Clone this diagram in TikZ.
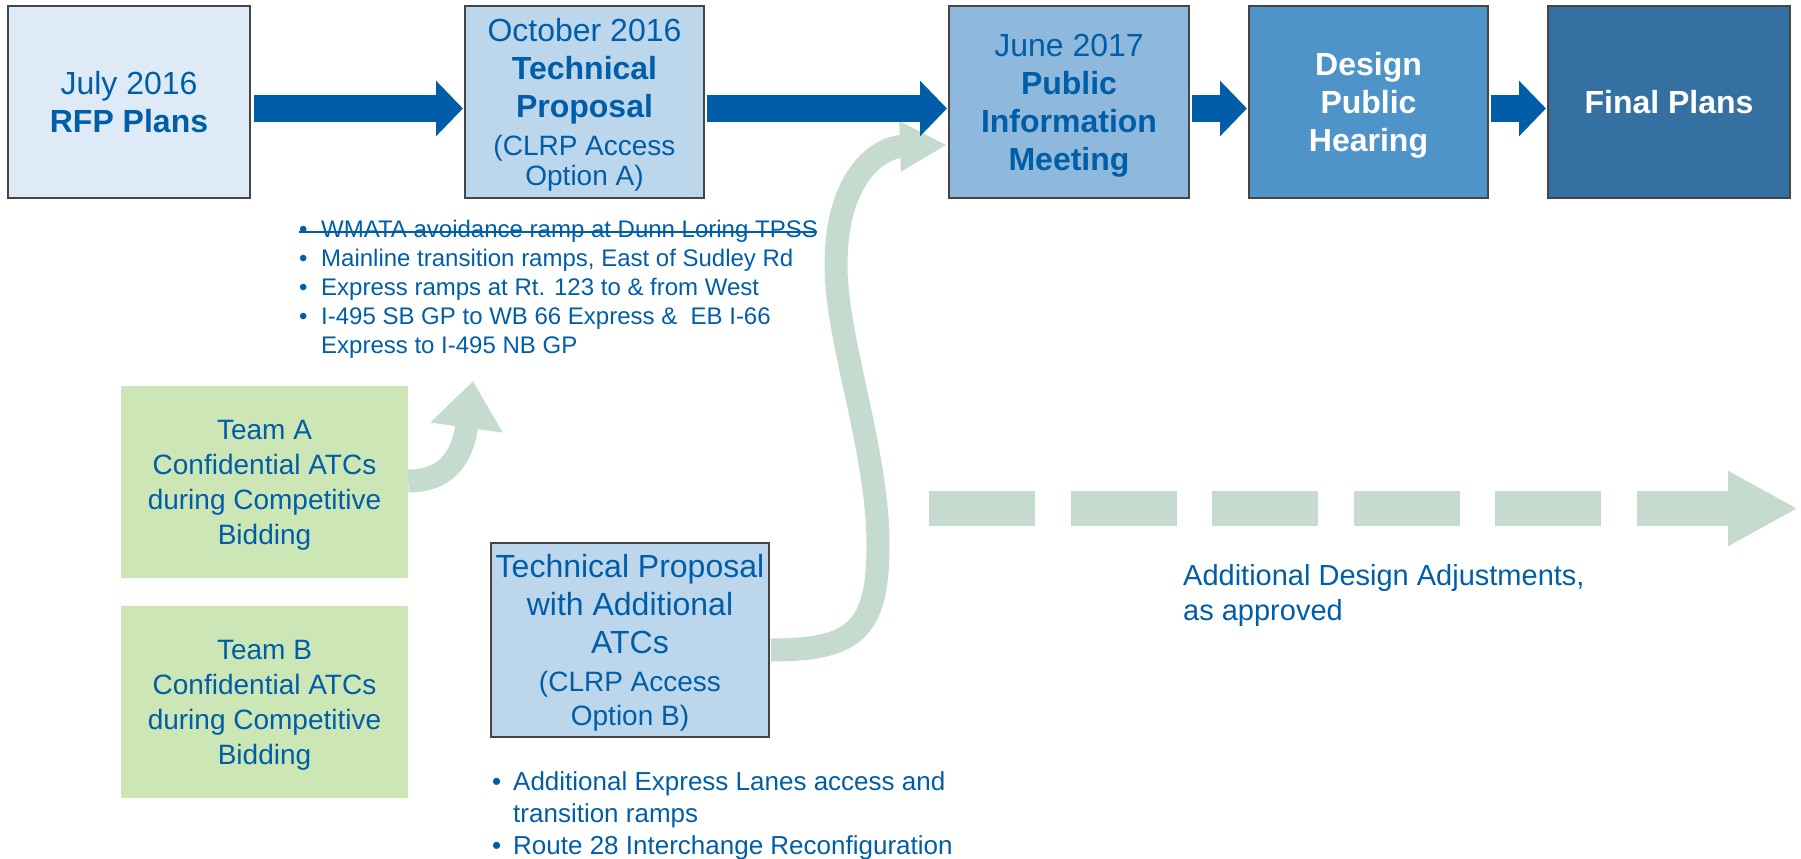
\documentclass[tikz,border=0pt]{standalone}
\usepackage{fontspec}
\setmainfont{Liberation Sans}
\usetikzlibrary{arrows.meta}
\definecolor{txt}{HTML}{005EA8}
\definecolor{arr}{HTML}{005DA8}
\definecolor{cA}{HTML}{DEEBF7}
\definecolor{cB}{HTML}{BCD6EC}
\definecolor{cC}{HTML}{8FB9DC}
\definecolor{cD}{HTML}{4F94C9}
\definecolor{cE}{HTML}{3470A1}
\definecolor{grn}{HTML}{CDE6B5}
\definecolor{sage}{HTML}{C5DBD0}
\definecolor{bord}{HTML}{454545}
\newcommand{\fsBig}{\fontsize{32}{38}\selectfont}
\newcommand{\fsSm}{\fontsize{28}{30}\selectfont}
\begin{document}
\begin{tikzpicture}[x=1pt,y=-1pt,
  stage/.style={draw=bord, line width=2pt, minimum height=192pt, inner sep=0pt,
    align=center, text=txt, font=\fsBig, text depth=0pt},
  team/.style={fill=grn, minimum width=287pt, minimum height=192pt, inner sep=0pt,
    align=center, text=txt, font=\fontsize{28}{35}\selectfont, text depth=0pt},
  blk/.style={draw=arr, line width=27pt, -{Triangle[length=27pt,width=54pt]}},
  sagearr/.style={draw=sage, line width=23pt},
  lst/.style={anchor=base west, inner sep=0pt, text=txt}
]
\useasboundingbox (0,0) rectangle (1801,859);

% top row
\node[stage, fill=cA, minimum width=242pt] (b1) at (129,102) {July 2016\\\textbf{RFP Plans}};
\node[stage, fill=cB, minimum width=239pt] (b2) at (584.5,102)
  {October 2016\\\textbf{Technical}\\\textbf{Proposal}\\{\fsSm (CLRP Access}\\[-8pt]{\fsSm Option A)}};
\node[stage, fill=cC, minimum width=240pt] (b3) at (1069,102)
  {June 2017\\\textbf{Public}\\\textbf{Information}\\\textbf{Meeting}};
\node[stage, fill=cD, minimum width=239pt, text=white, font=\fsBig\bfseries] (b4) at (1368.5,102)
  {Design\\Public\\Hearing};
\node[stage, fill=cE, minimum width=242pt, text=white, font=\fsBig\bfseries] (b5) at (1669,102)
  {Final Plans};

% team boxes
\node[team] (tA) at (264.5,482) {Team A\\Confidential ATCs\\during Competitive\\Bidding};
\node[team] (tBB) at (264.5,702) {Team B\\Confidential ATCs\\during Competitive\\Bidding};

% technical proposal B
\node[stage, fill=cB, minimum width=278pt, minimum height=194pt, text depth=-6pt] (tB) at (630,640)
  {Technical Proposal\\with Additional\\ATCs\\{\fsSm (CLRP Access}\\[-4pt]{\fsSm Option B)}};

% bullet lists
\node[lst, font=\fontsize{24}{29}\selectfont] (bl1) at (299,237)
  {\begin{tabular}[t]{@{}l@{\hspace{13.6pt}}l@{}}
   \textbullet & WMATA avoidance ramp at Dunn Loring TPSS\\
   \textbullet & Mainline transition ramps, East of Sudley Rd\\
   \textbullet & Express ramps at Rt. 123 to \& from West\\
   \textbullet & I-495 SB GP to WB 66 Express \&\ \ EB I-66\\
               & Express to I-495 NB GP
   \end{tabular}};
\draw[txt, line width=1.5pt] ([yshift=5pt]bl1.base west) -- ++(518,0);

\node[lst, font=\fontsize{26}{32}\selectfont] (bl2) at (492,790)
  {\begin{tabular}[t]{@{}l@{\hspace{11.9pt}}l@{}}
   \textbullet & Additional Express Lanes access and\\
               & transition ramps\\
   \textbullet & Route 28 Interchange Reconfiguration
   \end{tabular}};

% additional design adjustments
\coordinate (ds) at (929,508.5);
\coordinate (de) at (1798,508.5);
\draw[draw=sage, line width=35pt, dash pattern=on 106pt off 35.6pt,
  -{Triangle[length=70pt,width=70pt]}] (ds) -- (de);
\node[lst, font=\fontsize{29}{34}\selectfont] (adj1) at (1183,585) {Additional Design Adjustments,};
\node[lst, font=\fontsize{29}{34}\selectfont] (adj2) at (1183,620) {as approved};

% sage curved arrows
\draw[sagearr, -{Triangle[length=47pt,width=70pt]}] ([yshift=1pt]tA.east)
  .. controls (435,481) and (460.6,470) .. (473,381);
\draw[sagearr, -{Triangle[length=47pt,width=47pt]}] ([xshift=1pt,yshift=-10pt]tB.east)
  .. controls (855,650) and (878,630) .. (878,545)
  .. controls (878,450) and (836,340) .. (836,265)
  .. controls (836,175) and (880,147) .. ([xshift=-1pt,yshift=-43pt]b3.west);

% blue block arrows
\draw[blk] ([xshift=3pt,yshift=-6.5pt]b1.east) -- ([xshift=-1pt,yshift=-6.5pt]b2.west);
\draw[blk] ([xshift=2pt,yshift=-6.5pt]b2.east) -- ([xshift=-1pt,yshift=-6.5pt]b3.west);
\draw[blk] ([xshift=2pt,yshift=-6.5pt]b3.east) -- ([xshift=-1pt,yshift=-6.5pt]b4.west);
\draw[blk] ([xshift=2pt,yshift=-6.5pt]b4.east) -- ([xshift=-1pt,yshift=-6.5pt]b5.west);
\end{tikzpicture}
\end{document}
